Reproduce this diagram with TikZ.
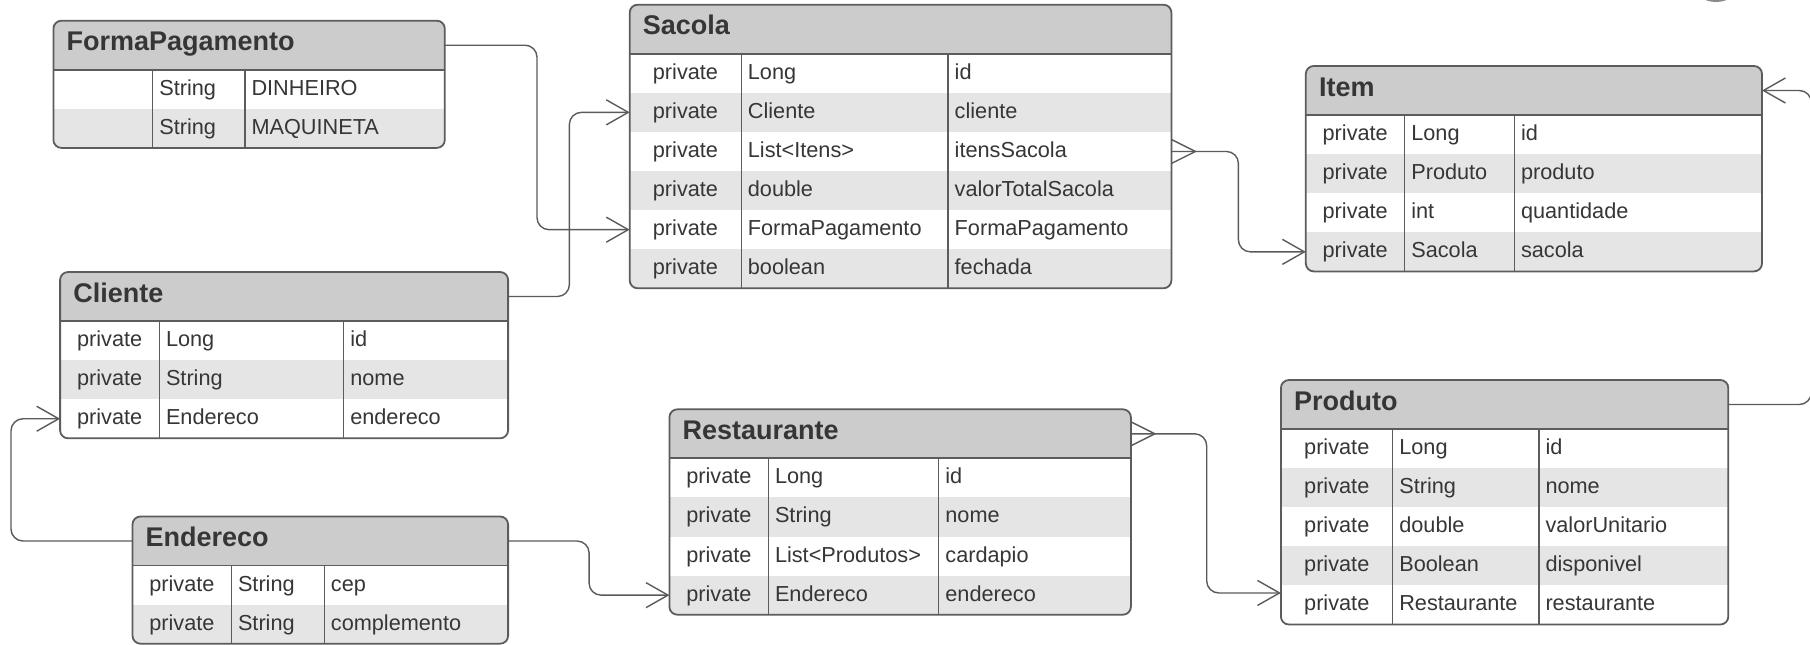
\documentclass[tikz,border=0pt]{standalone}
\usepackage{fontspec}
\setmainfont{Liberation Sans}
\usetikzlibrary{arrows.meta,calc}

\definecolor{headfill}{HTML}{CCCCCC}
\definecolor{stripefill}{HTML}{E5E5E5}
\definecolor{edgecol}{HTML}{5C5C5C}
\definecolor{linecol}{HTML}{5A5A5A}
\definecolor{inkcol}{HTML}{363636}
\definecolor{markcol}{HTML}{8A8A8A}

\tikzset{
  entbox/.style={draw=none, fill=white, rectangle, rounded corners=8pt, inner sep=0pt, outer sep=0pt},
  frame/.style={draw=edgecol, line width=1.8pt, rounded corners=8pt},
  divider/.style={draw=edgecol, line width=1.4pt},
  headrule/.style={draw=edgecol, line width=1.8pt},
  cell/.style={inner sep=0pt, text=inkcol, font=\fontsize{21.7pt}{26pt}\selectfont},
  titletext/.style={inner sep=0pt, text=inkcol, font=\fontsize{27pt}{32pt}\selectfont\bfseries},
  conn/.style={draw=linecol, line width=1.4pt, rounded corners=12pt,
    -{Straight Barb[length=22pt,width=25pt]}},
  footline/.style={draw=linecol, line width=1.4pt},
}

% header height and row height (in px units)
\newcommand\hdrh{49}
\newcommand\rowh{39.1}

% #1 name, #2 left, #3 top, #4 right, #5 first divider, #6 second divider,
% #7 number of rows, #8 title, #9 rows as modifier/type/field
\newcommand\entity[9]{%
  \pgfmathsetmacro\entbot{#3+\hdrh+#7*\rowh}%
  \pgfmathsetmacro\enthb{#3+\hdrh}%
  \pgfmathsetmacro\enthc{#3+\hdrh/2}%
  \node[entbox, anchor=north west, minimum width={(#4-#2)*1pt},
        minimum height={(\entbot-#3)*1pt}] (#1) at (#2,#3) {};
  \coordinate (#1-hw) at (#2,\enthc);
  \coordinate (#1-he) at (#4,\enthc);
  \begin{scope}
    \clip[rounded corners=8pt] (#2,#3) rectangle (#4,\entbot);
    \fill[headfill] (#2,#3) rectangle (#4,\enthb);
    \foreach \va/\vb/\vc [count=\vi] in {#9}{%
      \pgfmathsetmacro\entrt{\enthb+(\vi-1)*\rowh}%
      \pgfmathsetmacro\entrb{\entrt+\rowh}%
      \ifodd\vi\relax\else\fill[stripefill] (#2,\entrt) rectangle (#4,\entrb);\fi
      \node[cell, anchor=base] (#1-a\vi) at ({(#2+#5)/2},{\entrt+25.5}) {\va};
      \node[cell, anchor=base west] (#1-b\vi) at ({#5+6.5},{\entrt+25.5}) {\vb};
      \node[cell, anchor=base west] (#1-c\vi) at ({#6+6.5},{\entrt+25.5}) {\vc};
      \coordinate (#1-w\vi) at (#2,{\entrt+\rowh/2});
      \coordinate (#1-e\vi) at (#4,{\entrt+\rowh/2});
    }
  \end{scope}
  \draw[headrule] (#2,\enthb) -- (#4,\enthb);
  \draw[divider] (#5,\enthb) -- (#5,\entbot);
  \draw[divider] (#6,\enthb) -- (#6,\entbot);
  \draw[frame] (#1.north west) rectangle (#1.south east);
  \node[titletext, anchor=base west] (#1-title) at ({#2+13},{#3+30}) {#8};
}

\begin{document}
\begin{tikzpicture}[x=1pt, y=-1pt]
\useasboundingbox (0,0) rectangle (1810,645);

% small mark cut by the upper edge
\fill[markcol] (1716,-3) ellipse (13 and 5);

\entity{fp}{53.4}{20.7}{444.8}{152.6}{244.8}{2}{FormaPagamento}%
  {/String/DINHEIRO, /String/MAQUINETA}
\entity{sacola}{629.7}{4.7}{1171.4}{741.2}{948}{6}{Sacola}%
  {private/Long/id, private/Cliente/cliente, private/List<Itens>/itensSacola,
   private/double/valorTotalSacola, private/FormaPagamento/FormaPagamento,
   private/boolean/fechada}
\entity{item}{1305.8}{66}{1762}{1404.6}{1514.3}{4}{Item}%
  {private/Long/id, private/Produto/produto, private/int/quantidade,
   private/Sacola/sacola}
\entity{cliente}{60.1}{272}{508.1}{159.3}{343.6}{3}{Cliente}%
  {private/Long/id, private/String/nome, private/Endereco/endereco}
\entity{endereco}{132.5}{516.5}{508.1}{231.3}{324.2}{2}{Endereco}%
  {private/String/cep, private/String/complemento}
\entity{rest}{669.4}{409.3}{1130.9}{768.3}{938.7}{4}{Restaurante}%
  {private/Long/id, private/String/nome, private/List<Produtos>/cardapio,
   private/Endereco/endereco}
\entity{produto}{1280.9}{380}{1728.3}{1392.6}{1538.8}{5}{Produto}%
  {private/Long/id, private/String/nome, private/double/valorUnitario,
   private/Boolean/disponivel, private/Restaurante/restaurante}

% relationships
\draw[conn] (fp-he) -- ++(92.2,0) |- (sacola-w5);
\draw[conn] (cliente-he) -- ++(61.3,0) |- (sacola-w2);
\draw[conn] (sacola-e3) -- ++(67,0) |- (item-w4);
\draw[footline] ($(sacola-e3)+(0,-12)$) -- ($(sacola-e3)+(24,0)$) -- ($(sacola-e3)+(0,12)$);
\draw[conn] (endereco-hw) -- ++(-121.5,0) |- (cliente-w3);
\draw[conn] (endereco-he) -- ++(81,0) |- (rest-w4);
\draw[conn] (rest-he) -- ++(75.8,0) |- ($(produto-w5)+(0,-12)$);
\draw[footline] ($(rest-he)+(0,-12)$) -- ($(rest-he)+(24,0)$) -- ($(rest-he)+(0,12)$);
\draw[conn] (produto-he) -- ++(83,0) |- (item-he);
\end{tikzpicture}
\end{document}
